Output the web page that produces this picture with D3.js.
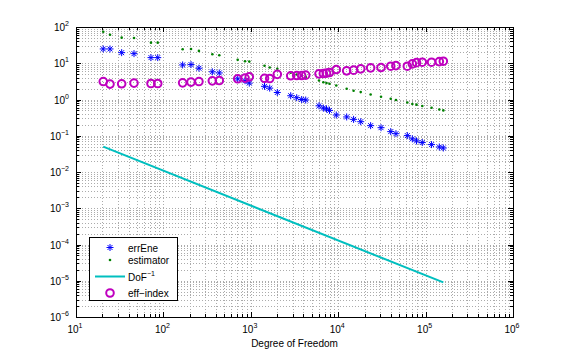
<!DOCTYPE html>
<html>
<head>
<meta charset="utf-8">
<script src="https://cdn.jsdelivr.net/npm/d3@7"></script>
<style>
  body { margin: 0; background: #fff; }
  text { font-family: "Liberation Sans", Arial, sans-serif; }
</style>
</head>
<body>
<svg id="chart" width="585" height="357"></svg>
<script>
// degrees of freedom per refinement step
const dof = [20.5, 24.5, 33.3, 46.1, 72.1, 86.1, 166, 207, 255, 363, 436, 708, 859, 961,
  1435, 1645, 2010, 2862, 3350, 3820, 4248, 6030, 6760, 7350, 7950, 9510, 12500, 15000,
  18100, 23500, 30900, 39900, 45800, 61800, 70500, 78700, 91600, 117000, 143500, 159500];

const errEne = [24.8, 24.8, 19.6, 18.4, 14.3, 14.3, 9.0, 9.2, 7.3, 5.8, 5.4, 3.7, 3.3, 2.83,
  2.31, 2.06, 1.56, 1.27, 1.12, 1.0, 0.97, 0.67, 0.58, 0.55, 0.50, 0.373, 0.33, 0.283,
  0.244, 0.19, 0.167, 0.130, 0.114, 0.101, 0.082, 0.072, 0.065, 0.057, 0.049, 0.046];

const estimator = [74.3, 61.4, 50.8, 49.9, 37.0, 37.0, 24.4, 24.8, 21.9, 17.7, 16.7, 12.4, 11.4, 11.1,
  8.5, 7.6, 7.0, 5.5, 4.9, 4.5, 4.2, 3.34, 3.0, 2.83, 2.71, 2.43, 1.98, 1.74,
  1.60, 1.38, 1.19, 1.05, 0.97, 0.83, 0.75, 0.72, 0.66, 0.59, 0.53, 0.50];

const effIndex = [3.13, 2.66, 2.71, 2.83, 2.76, 2.76, 2.88, 3.02, 3.13, 3.27, 3.34, 3.72, 3.89, 4.22,
  3.84, 3.79, 4.94, 4.50, 4.58, 4.58, 4.70, 5.10, 5.20, 5.33, 5.54, 6.70, 6.17, 6.45,
  7.0, 7.46, 7.6, 8.3, 8.6, 8.3, 9.6, 10.4, 10.7, 10.7, 11.1, 11.4];

// reference slope line DoF^-1
const slopeDof = [20.5, 159500];
const slopeVal = [0.05, 9e-6];

const xTickExp = [1, 2, 3, 4, 5, 6];
const yTickExp = [2, 1, 0, -1, -2, -3, -4, -5, -6];

const margin = { top: 27, right: 72, bottom: 40, left: 76 };
const width = 585 - margin.left - margin.right;
const height = 357 - margin.top - margin.bottom;

const blue = "#0000ff", green = "#008000", cyan = "#00bfbf", magenta = "#bf00bf";

const svg = d3.select("#chart");
const g = svg.append("g").attr("transform", "translate(" + margin.left + "," + margin.top + ")");

const x = d3.scaleLog().domain([1e1, 1e6]).range([0, width]);
const y = d3.scaleLog().domain([1e-6, 1e2]).range([height, 0]);

// dotted grid (major + minor)
const gridStyle = (s) => s.attr("stroke", "#ababab").attr("stroke-width", 1)
  .attr("stroke-dasharray", "1,2").attr("shape-rendering", "crispEdges");

g.append("g").selectAll("line").data(x.ticks()).join("line")
  .attr("x1", d => Math.round(x(d)) + 0.5).attr("x2", d => Math.round(x(d)) + 0.5)
  .attr("y1", 0).attr("y2", height).call(gridStyle);

g.append("g").selectAll("line").data(y.ticks()).join("line")
  .attr("y1", d => Math.round(y(d)) + 0.5).attr("y2", d => Math.round(y(d)) + 0.5)
  .attr("x1", 0).attr("x2", width).call(gridStyle);

// tick marks on all four sides, pointing inward
const isMajor = (d) => Math.abs(Math.log10(d) - Math.round(Math.log10(d))) < 1e-9;
const ticks = g.append("g").attr("stroke", "#000").attr("shape-rendering", "crispEdges");
x.ticks().forEach(d => {
  const xx = Math.round(x(d)) + 0.5, len = isMajor(d) ? 5 : 3;
  ticks.append("line").attr("x1", xx).attr("x2", xx).attr("y1", height).attr("y2", height - len);
  ticks.append("line").attr("x1", xx).attr("x2", xx).attr("y1", 0).attr("y2", len);
});
y.ticks().forEach(d => {
  const yy = Math.round(y(d)) + 0.5, len = isMajor(d) ? 5 : 3;
  ticks.append("line").attr("y1", yy).attr("y2", yy).attr("x1", 0).attr("x2", len);
  ticks.append("line").attr("y1", yy).attr("y2", yy).attr("x1", width).attr("x2", width - len);
});

// axis box
g.append("rect").attr("x", 0.5).attr("y", 0.5).attr("width", width).attr("height", height)
  .attr("fill", "none").attr("stroke", "#000").attr("shape-rendering", "crispEdges");

// tick labels 10^n
const powText = (t, base, e) => {
  t.append("tspan").text(base);
  t.append("tspan").attr("dy", -5).attr("font-size", 7).text(e);
};

g.append("g").selectAll("text").data(xTickExp).join("text")
  .attr("x", d => x(Math.pow(10, d)) - 1)
  .attr("y", height + 16)
  .attr("text-anchor", "middle")
  .attr("font-size", 10)
  .each(function (d) { powText(d3.select(this), "10", d); });

g.append("g").selectAll("text").data(yTickExp).join("text")
  .attr("x", -7)
  .attr("y", d => y(Math.pow(10, d)) + 4)
  .attr("text-anchor", "end")
  .attr("font-size", 10)
  .each(function (d) { powText(d3.select(this), "10", d < 0 ? "\u2212" + (-d) : d); });

g.append("text")
  .attr("x", width / 2).attr("y", height + 30)
  .attr("text-anchor", "middle").attr("font-size", 10)
  .text("Degree of Freedom");

// star marker (MATLAB '*')
const starPath = (r) => {
  const k = r * 0.7071;
  return "M" + (-r) + ",0L" + r + ",0M0," + (-r) + "L0," + r +
    "M" + (-k) + "," + (-k) + "L" + k + "," + k + "M" + (-k) + "," + k + "L" + k + "," + (-k);
};

const pts = dof.map((d, i) => ({ dof: d, err: errEne[i], est: estimator[i], eff: effIndex[i] }));

g.append("g").selectAll("path").data(pts).join("path")
  .attr("transform", d => "translate(" + x(d.dof) + "," + y(d.err) + ")")
  .attr("d", starPath(3.5))
  .attr("stroke", blue).attr("stroke-width", 1).attr("fill", "none");

g.append("g").selectAll("circle").data(pts).join("circle")
  .attr("cx", d => x(d.dof)).attr("cy", d => y(d.est))
  .attr("r", 1.3).attr("fill", green);

const line = d3.line().x(d => x(d[0])).y(d => y(d[1]));
g.append("path")
  .datum(slopeDof.map((d, i) => [d, slopeVal[i]]))
  .attr("d", line)
  .attr("stroke", cyan).attr("stroke-width", 2).attr("fill", "none");

g.append("g").selectAll("circle").data(pts).join("circle")
  .attr("cx", d => x(d.dof)).attr("cy", d => y(d.eff))
  .attr("r", 3.8).attr("fill", "none").attr("stroke", magenta).attr("stroke-width", 2);

// legend
const lg = svg.append("g").attr("transform", "translate(89,237)");
lg.append("rect").attr("x", 0.5).attr("y", 0.5).attr("width", 88).attr("height", 63)
  .attr("fill", "#fff").attr("stroke", "#000").attr("shape-rendering", "crispEdges");

const items = [
  { label: "errEne", y: 10.5 },
  { label: "estimator", y: 23 },
  { label: "DoF", sup: "\u22121", y: 39.5 },
  { label: "eff\u2212index", y: 56 }
];

lg.append("path").attr("transform", "translate(21," + items[0].y + ")")
  .attr("d", starPath(3.5)).attr("stroke", blue).attr("fill", "none");
lg.append("circle").attr("cx", 21).attr("cy", items[1].y).attr("r", 1.3).attr("fill", green);
lg.append("line").attr("x1", 6).attr("x2", 36).attr("y1", items[2].y).attr("y2", items[2].y)
  .attr("stroke", cyan).attr("stroke-width", 2);
lg.append("circle").attr("cx", 21).attr("cy", items[3].y).attr("r", 3.8)
  .attr("fill", "none").attr("stroke", magenta).attr("stroke-width", 2);

items.forEach(it => {
  const t = lg.append("text").attr("x", 39).attr("y", it.y + 4).attr("font-size", 10);
  if (it.sup) powText(t, it.label, it.sup);
  else t.text(it.label);
});
</script>
</body>
</html>
